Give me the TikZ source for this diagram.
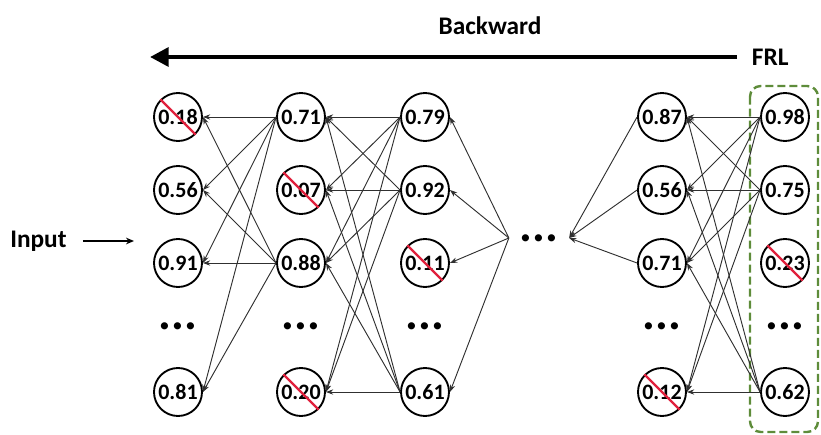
\documentclass[tikz,border=0pt]{standalone}
\usepackage{fontspec}
\setmainfont{Carlito}
\usetikzlibrary{arrows.meta}
\definecolor{linkgray}{HTML}{303030}
\definecolor{cutred}{HTML}{E0203C}
\definecolor{frlgreen}{HTML}{5E8C3A}
\begin{document}
\begin{tikzpicture}[x=0.75pt,y=-0.75pt,
  neuron/.style={circle,draw=black,line width=1.4pt,minimum size=36pt,inner sep=0pt,
    font=\fontsize{16.5}{16.5}\selectfont\bfseries},
  more/.style={inner sep=0pt,font=\fontsize{36}{36}\selectfont\bfseries},
  link/.style={draw=linkgray,line width=0.7pt,-{Stealth[length=5.5pt,width=4pt]}},
  cut/.style={draw=cutred,line width=1.8pt},
  heading/.style={font=\fontsize{19}{19}\selectfont\bfseries}]
\useasboundingbox (0,0) rectangle (821,435);

% layer 1
\node[neuron] (n11) at (178,117) {0.18};
\node[neuron] (n12) at (178,190) {0.56};
\node[neuron] (n13) at (178,263) {0.91};
\node[more]   (d1)  at (178,326) {...};
\node[neuron] (n15) at (178,392) {0.81};
% layer 2
\node[neuron] (n21) at (301,117) {0.71};
\node[neuron] (n22) at (301,190) {0.07};
\node[neuron] (n23) at (301,263) {0.88};
\node[more]   (d2)  at (301,326) {...};
\node[neuron] (n25) at (301,392) {0.20};
% layer 3
\node[neuron] (n31) at (425,117) {0.79};
\node[neuron] (n32) at (425,190) {0.92};
\node[neuron] (n33) at (425,263) {0.11};
\node[more]   (d3)  at (425,326) {...};
\node[neuron] (n35) at (425,392) {0.61};
% hidden layers in between
\node[more,inner xsep=8pt] (mid) at (539,238) {...};
% layer L-1
\node[neuron] (n41) at (662,117) {0.87};
\node[neuron] (n42) at (662,190) {0.56};
\node[neuron] (n43) at (662,263) {0.71};
\node[more]   (d4)  at (662,326) {...};
\node[neuron] (n45) at (662,392) {0.12};
% final layer
\node[neuron] (n51) at (785,117) {0.98};
\node[neuron] (n52) at (785,190) {0.75};
\node[neuron] (n53) at (785,263) {0.23};
\node[more]   (d5)  at (785,326) {...};
\node[neuron] (n55) at (785,392) {0.62};

% final-layer frame
\draw[frlgreen,line width=1.8pt,dash pattern=on 6pt off 3pt,rounded corners=8pt]
  (750,86) rectangle (818,432);

% backward relevance links
\foreach \s in {n21,n23}
  \foreach \t in {n11,n12,n13,n15}
    \draw[link] (\s.west) -- (\t.east);
\foreach \s in {n31,n32,n35}
  \foreach \t in {n21,n22,n23,n25}
    \draw[link] (\s.west) -- (\t.east);
\foreach \t in {n31,n32,n33,n35}
  \draw[link] (mid.west) -- (\t.east);
\foreach \s in {n41,n42,n43}
  \draw[link] (\s.west) -- (mid.east);
\foreach \s in {n51,n52,n55}
  \foreach \t in {n41,n42,n43,n45}
    \draw[link] (\s.west) -- (\t.east);

% pruned neurons
\foreach \n in {n11,n22,n25,n33,n45,n53}
  \draw[cut] (\n.north west) -- (\n.south east);

% direction of propagation
\node[heading] (bw) at (490,26) {Backward};
\node[heading,inner xsep=11pt,anchor=west] (frl) at (737,57) {FRL};
\coordinate (bwend) at (150,57);
\draw[line width=3.2pt,-{Triangle[length=14pt,width=14pt]}] (frl.west) -- (bwend);

% network input
\node[heading,anchor=west,inner xsep=0pt] (inp) at (10,241) {Input};
\coordinate (inend) at (134,241);
\draw[line width=1.2pt,-{Stealth[length=6pt,width=5pt]}] ([xshift=12pt]inp.east) -- (inend);
\end{tikzpicture}
\end{document}
